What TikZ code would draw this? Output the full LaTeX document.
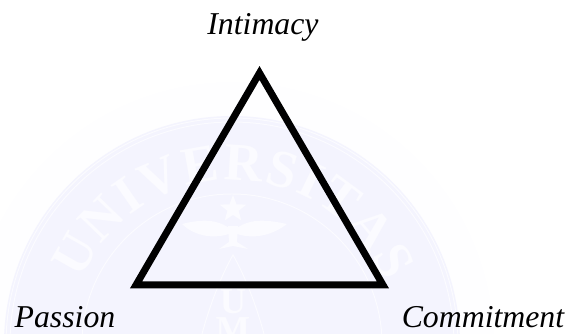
\documentclass[tikz,border=0pt]{standalone}
\usepackage{fontspec}
\setmainfont{Liberation Serif}
\usetikzlibrary{shapes.geometric,decorations.text}
\definecolor{sealback}{RGB}{244,244,254}
\definecolor{sealglow}{RGB}{254,254,255}
\definecolor{sealmark}{RGB}{251,251,255}
\newcommand{\sealfont}{\fontsize{38}{38}\selectfont\bfseries}
\tikzset{
  corner label/.style={anchor=base, inner sep=0pt, font=\fontsize{22.6}{26}\selectfont\itshape},
  seal line/.style={color=sealmark, line width=0.7pt},
  seal letter/.style={color=sealmark, inner sep=0pt, font=\fontsize{26}{26}\selectfont\bfseries}
}
\begin{document}
\begin{tikzpicture}[x=0.025cm,y=0.025cm]
\useasboundingbox (0,0) rectangle (566,334);
\begin{scope}
\clip (0,0) rectangle (566,334);
% seal behind the triangle
\fill[color=sealglow] (232,-10) circle (262);
\fill[color=sealback] (232,-10) circle (228);
\foreach \r in {226,222,150} 
\draw[seal line] (232,-10) circle (\r);
\path[decorate, decoration={text along path, text align=fit to path,
  text={|\sealfont\color{sealmark}|UNIVERSITAS}}] (232,-10) ++(157:164) arc (157:22:164);
\node[star, star points=5, star point ratio=2.4, minimum size=20pt, inner sep=0pt, fill=sealmark] (sealstar) at (233,125) {};
% wings, body and feet
\fill[color=sealmark] (229,106) .. controls (215,116) and (198,114) .. (182,110) .. controls (192,100) and (210,94) .. (229,100) -- cycle;
\fill[color=sealmark] (237,106) .. controls (251,116) and (268,114) .. (287,110) .. controls (274,100) and (256,94) .. (237,100) -- cycle;
\fill[color=sealmark] (228,108) -- (238,108) -- (237,92) -- (248,85) -- (233,88) -- (219,85) -- (229,92) -- cycle;
\draw[seal line] (202,0) .. controls (210,30) and (222,60) .. (233,79) .. controls (244,60) and (256,30) .. (264,0);
\node[seal letter] (sealu) at (233,32) {U};
\node[seal letter] (sealm) at (233,4) {M};
\end{scope}
% triangle and its corners
\coordinate (apex) at (259.5,261);
\coordinate (left) at (136,49);
\coordinate (right) at (383,49);
\draw[line width=4.98pt, miter limit=10] (apex) -- (left) -- (right) -- cycle;
\node[corner label] (intimacy) at (263,299) {Intimacy};
\node[corner label] (passion) at (65,6) {Passion};
\node[corner label] (commitment) at (483,6) {Commitment};
\end{tikzpicture}
\end{document}
